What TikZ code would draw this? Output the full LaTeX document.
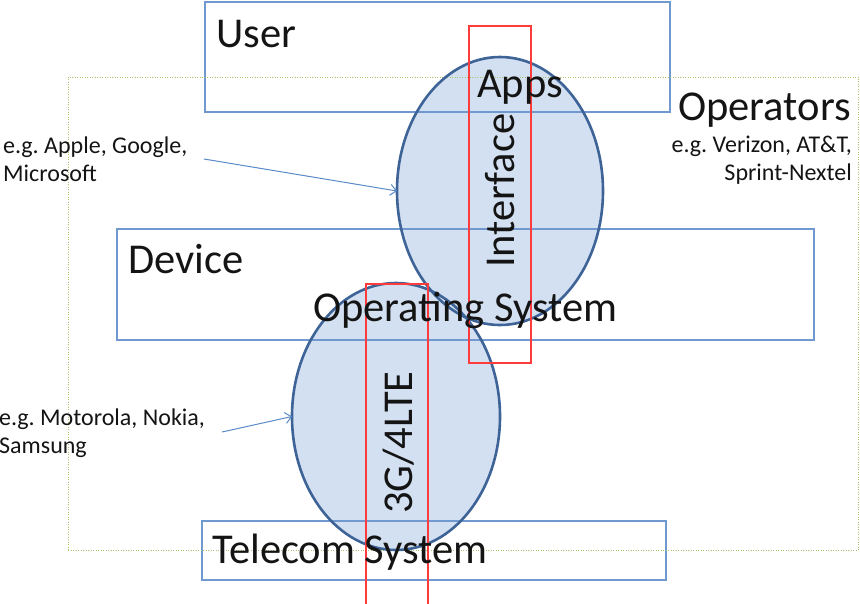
\documentclass[tikz,border=0pt]{standalone}
\usepackage{fontspec}
\setmainfont{Carlito}
\usetikzlibrary{shapes.geometric,arrows.meta}
\definecolor{boxblue}{HTML}{7099D0}
\definecolor{ovalfill}{HTML}{D3E0F1}
\definecolor{ovalline}{HTML}{3E6397}
\definecolor{bandred}{HTML}{FF3B3B}
\definecolor{opgreen}{HTML}{A6C46A}
\definecolor{arrowblue}{HTML}{5B8AC9}
\frenchspacing
\begin{document}
\begin{tikzpicture}[x=1pt,y=-1pt,
  layerbox/.style={draw=boxblue, line width=1.2pt, anchor=north west, inner sep=0pt, outer sep=0pt},
  oval/.style={ellipse, fill=ovalfill, inner sep=0pt, outer sep=0pt},
  ovalrim/.style={draw=ovalline, line width=2.6pt},
  band/.style={draw=bandred, line width=1.3pt, anchor=north west, inner sep=0pt, outer sep=0pt},
  opzone/.style={draw=opgreen, line width=1pt, dash pattern=on 1pt off 1.5pt, anchor=north west, inner sep=0pt, outer sep=0pt},
  big/.style={font=\fontsize{42.5}{50}\selectfont, text=black!92, inner sep=0pt},
  small/.style={font=\fontsize{24}{28}\selectfont, text=black!92, inner sep=0pt},
  pointer/.style={draw=arrowblue, line width=1pt, -{Straight Barb[length=6pt,width=11pt]}}]
  \useasboundingbox (0,0) rectangle (860,603);

  % filled ovals for the software and hardware makers
  \node[oval, minimum width=206, minimum height=268] (apps) at (500,191) {};
  \node[oval, minimum width=208, minimum height=267] (radio) at (396,416.5) {};

  % layer boxes
  \node[layerbox, minimum width=465, minimum height=110] (user) at (205,2) {};
  \node[layerbox, minimum width=697, minimum height=111] (device) at (117,229) {};
  \node[layerbox, minimum width=464, minimum height=59] (telecom) at (202,521) {};

  % operators zone
  \node[opzone, minimum width=790, minimum height=473] (operators) at (68,77) {};

  % oval outlines on top of the boxes
  \draw[ovalrim] (apps.center) ellipse [x radius=103, y radius=134];
  \draw[ovalrim] (radio.center) ellipse [x radius=104, y radius=133.5];

  % interface bands
  \node[band, minimum width=62, minimum height=337] (ifaceband) at (469,26) {};
  \node[band, minimum width=62, minimum height=330] (radioband) at (366,284) {};

  % labels
  \node[big, anchor=base west] (usertxt) at (216,47) {User};
  \node[big, anchor=base west] (appstxt) at (477,97) {Apps};
  \node[big, anchor=base west, rotate=90] (ifacetxt) at (514,268) {Interface};
  \node[big, anchor=base east] (optxt) at (851,120) {Operators};
  \node[small, anchor=base east, align=right] (opeg) at (852,180) {e.g. Verizon, AT\&T,\\Sprint-Nextel};
  \node[big, anchor=base west] (devtxt) at (128,273) {Device};
  \node[big, anchor=base west] (ostxt) at (313,321) {Operating System};
  \node[big, anchor=base west, rotate=90] (radiotxt) at (412,514) {3G/4LTE};
  \node[big, anchor=base west] (teltxt) at (212,563) {Telecom System};
  \node[small, anchor=base west, align=left] (appleeg) at (3,181) {e.g. Apple, Google,\\Microsoft};
  \node[small, anchor=base west, align=left] (motoeg) at (-1,453) {e.g. Motorola, Nokia,\\Samsung};

  % pointers from the examples to the ovals
  \coordinate (appletail) at (204,159);
  \coordinate (mototail) at (222,432);
  \draw[pointer] (appletail) -- (apps.west);
  \draw[pointer] (mototail) -- (radio.west);
\end{tikzpicture}
\end{document}
